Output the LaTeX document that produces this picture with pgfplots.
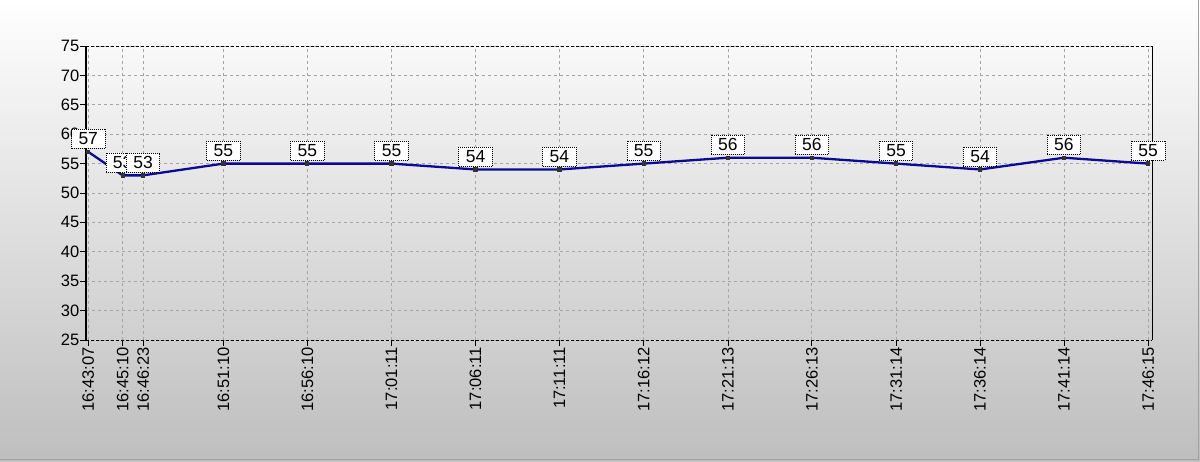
\documentclass[border=0pt]{standalone}
\usepackage{fontspec}
\setmainfont{Liberation Sans}
\usepackage{pgfplots}
\pgfplotsset{compat=1.18}
\definecolor{linec}{RGB}{10,10,150}
\definecolor{bgbot}{RGB}{190,190,190}
\definecolor{gridc}{RGB}{165,165,165}
\begin{document}
\begin{tikzpicture}[x=1pt,y=1pt]
\useasboundingbox (0,0) rectangle (1200,461);
\shade[top color=white, bottom color=bgbot] (0,0) rectangle (1200,461);
\draw[color={rgb,255:red,160;green,160;blue,160}, line width=1pt] (1198,461) -- (1198,2) -- (0,2);
\begin{axis}[
  at={(86pt,121pt)}, anchor=south west,
  scale only axis, width=1066pt, height=294pt,
  xmin=-8, xmax=3802, ymin=25, ymax=75,
  ytick={25,30,...,75},
  xtick={0,123,196,483,783,1084,1384,1684,1985,2286,2586,2887,3187,3487,3788},
  xticklabels={16:43:07,16:45:10,16:46:23,16:51:10,16:56:10,17:01:11,17:06:11,17:11:11,17:16:12,17:21:13,17:26:13,17:31:14,17:36:14,17:41:14,17:46:15},
  xticklabel style={rotate=90, anchor=east, font=\fontsize{16.5}{18}\selectfont, inner sep=1pt},
  yticklabel style={font=\fontsize{16.5}{18}\selectfont, inner sep=0.5pt},
  xtick pos=bottom, ytick pos=left,
  tick align=outside, major tick length=6pt,
  tick style={black, line width=0.8pt},
  grid=major,
  major grid style={gridc, dash pattern=on 3pt off 3pt, line width=0.8pt},
  axis line style={draw=none},
  /pgf/number format/assume math mode=true,
  clip=false,
  nodes near coords,
  every node near coord/.append style={
    font=\fontsize{17.5}{19}\selectfont, black, fill=white, draw=black,
    dash pattern=on 1pt off 1pt, line width=0.8pt,
    inner xsep=7pt, inner ysep=2pt, minimum height=19pt,
    anchor=south, yshift=3pt},
]
\draw[black, line width=0.8pt, dash pattern=on 3pt off 2pt] (rel axis cs:0,1) -- (rel axis cs:1,1);
\draw[black, line width=0.8pt, dash pattern=on 3pt off 2pt] (rel axis cs:0,0) -- (rel axis cs:1,0);
\draw[black, line width=1.2pt] (rel axis cs:0,0) -- (rel axis cs:0,1);
\draw[black, line width=1.2pt] (rel axis cs:1,0) -- (rel axis cs:1,1);
\addplot[linec, line width=2.3pt, mark=square*, mark size=1pt, mark options={solid, fill=black!80, draw=black!80}] coordinates {
(0,57) (123,53) (196,53) (483,55) (783,55) (1084,55) (1384,54) (1684,54)
(1985,55) (2286,56) (2586,56) (2887,55) (3187,54) (3487,56) (3788,55)
};
\end{axis}
\end{tikzpicture}
\end{document}
